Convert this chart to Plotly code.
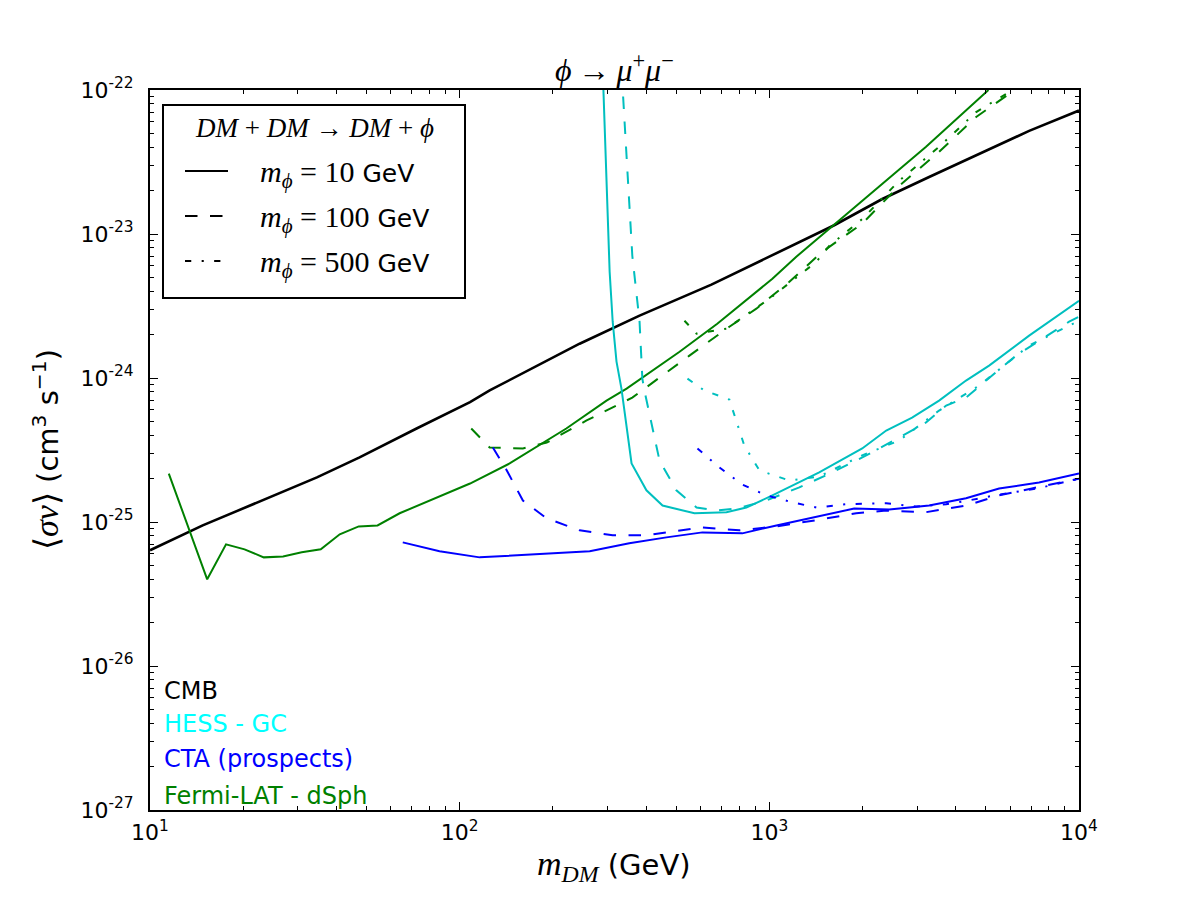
import plotly.graph_objects as go

# ---------------- data ----------------
cmb_x = [10, 14.8, 34.6, 47.5, 72.6, 108, 125, 244, 381, 650, 1620, 2316, 3281, 4756, 6902, 10000]
cmb_y = [6.36e-26, 9.47e-26, 2.04e-25, 2.81e-25, 4.46e-25, 6.8e-25, 8.2e-25, 1.73e-24, 2.71e-24,
         4.45e-24, 1.15e-23, 1.75e-23, 2.49e-23, 3.6e-23, 5.2e-23, 7.2e-23]

fermi10_x = [11.5, 15.3, 17.6, 20.2, 23.3, 26.9, 30.9, 35.6, 41.0, 47.2, 54.3, 64.0, 108, 145, 221,
             298, 346, 513, 679, 830, 1023, 1222, 1563, 2438, 3207, 5100]
fermi10_y = [2.17e-25, 4.0e-26, 7.0e-26, 6.46e-26, 5.68e-26, 5.77e-26, 6.16e-26, 6.46e-26, 8.21e-26,
             9.32e-26, 9.47e-26, 1.15e-25, 1.85e-25, 2.55e-25, 4.46e-25, 6.97e-25, 8.44e-25, 1.52e-24,
             2.38e-24, 3.39e-24, 4.89e-24, 6.95e-24, 1.09e-23, 2.42e-23, 4.03e-23, 1.0e-22]

fermi100_x = [109, 125, 160, 191, 257, 361, 552, 743, 908, 1161, 1483, 1995, 2625, 3533, 4655, 5821, 6100]
fermi100_y = [4.46e-25, 3.29e-25, 3.24e-25, 3.56e-25, 5.07e-25, 7.31e-25, 1.43e-24, 2.27e-24,
              3.03e-24, 4.66e-24, 7.53e-24, 1.18e-23, 2.16e-23, 3.72e-23, 6.5e-23, 9.1e-23, 1.0e-22]

fermi500_x = [532, 582, 727, 1000, 1418, 1563, 1995, 2625, 3533, 4655, 6100]
fermi500_y = [2.5e-24, 2.03e-24, 2.2e-24, 3.55e-24, 6.41e-24, 8.28e-24, 1.27e-23, 2.34e-23, 4.03e-23,
              7.03e-23, 1.0e-22]

hess10_x = [288, 298, 305, 312, 321, 333, 359, 401, 452, 573, 727, 843, 1023, 1449, 1995, 2385, 2891,
            3533, 4317, 5125, 6902, 10000]
hess10_y = [2e-22, 2.06e-23, 5.47e-24, 2.46e-24, 1.30e-24, 8.44e-25, 2.55e-25, 1.66e-25, 1.30e-25,
            1.15e-25, 1.17e-25, 1.26e-25, 1.53e-25, 2.21e-25, 3.24e-25, 4.32e-25, 5.31e-25, 6.97e-25,
            9.6e-25, 1.22e-24, 1.97e-24, 3.44e-24]

hess100_x = [330, 346, 361, 381, 389, 395, 442, 501, 582, 675, 783, 978, 1250, 1597, 2055, 2625, 3207,
             3724, 4317, 5012, 6266, 9290, 10000]
hess100_y = [2e-22, 3.48e-23, 7.06e-24, 2.46e-24, 9.9e-25, 8.18e-25, 2.67e-25, 1.66e-25, 1.26e-25,
             1.2e-25, 1.24e-25, 1.41e-25, 1.74e-25, 2.21e-25, 2.9e-25, 3.86e-25, 4.91e-25, 6.44e-25,
             7.31e-25, 9.6e-25, 1.43e-24, 2.46e-24, 2.67e-24]

hess500_x = [544, 617, 743, 830, 929, 1161, 1449, 1995, 2625, 3533, 4756, 6902, 10000]
hess500_y = [9.9e-25, 8.18e-25, 7.08e-25, 3.4e-25, 2.28e-25, 1.94e-25, 2.07e-25, 2.9e-25, 3.68e-25,
             5.94e-25, 8.85e-25, 1.68e-24, 2.5e-24]

cta10_x = [65.5, 86.1, 116, 263, 353, 465, 608, 818, 1054, 1346, 1879, 2438, 3281, 4317, 5520, 7430, 10000]
cta10_y = [7.22e-26, 6.26e-26, 5.68e-26, 6.26e-26, 7.11e-26, 7.82e-26, 8.47e-26, 8.34e-26, 9.47e-26,
           1.06e-25, 1.24e-25, 1.22e-25, 1.30e-25, 1.46e-25, 1.71e-25, 1.88e-25, 2.17e-25]

cta100_x = [128, 142, 160, 191, 244, 312, 401, 608, 800, 1054, 1418, 1908, 2385, 3207, 4317, 5520, 7047, 10000]
cta100_y = [3.29e-25, 2.28e-25, 1.41e-25, 1.06e-25, 8.75e-26, 8.08e-26, 8.08e-26, 9.18e-26, 8.75e-26,
            9.32e-26, 1.03e-25, 1.15e-25, 1.2e-25, 1.17e-25, 1.30e-25, 1.53e-25, 1.71e-25, 2.0e-25]

cta500_x = [586, 690, 818, 978, 1187, 1418, 1772, 2385, 2978, 3724, 4390, 5520, 7430, 10000]
cta500_y = [3.24e-25, 2.39e-25, 1.82e-25, 1.53e-25, 1.37e-25, 1.26e-25, 1.33e-25, 1.35e-25, 1.28e-25,
            1.33e-25, 1.41e-25, 1.55e-25, 1.72e-25, 2.0e-25]

x_ticks = [10, 100, 1000, 10000]
x_ticktext = ["10<sup>1</sup>", "10<sup>2</sup>", "10<sup>3</sup>", "10<sup>4</sup>"]
y_ticks = [1e-27, 1e-26, 1e-25, 1e-24, 1e-23, 1e-22]
y_ticktext = ["10<sup>-27</sup>", "10<sup>-26</sup>", "10<sup>-25</sup>", "10<sup>-24</sup>",
              "10<sup>-23</sup>", "10<sup>-22</sup>"]

labels = ["CMB", "HESS - GC", "CTA (prospects)", "Fermi-LAT - dSph"]
label_colors = ["#000000", "#00FFFF", "#0000FF", "#008000"]
mphi_labels = ["10", "100", "500"]

# ---------------- styles ----------------
BLACK, CYAN, BLUE, GREEN = "#000000", "#00BFBF", "#0000FF", "#008000"
DASH = "12.5px,12.5px"
DASHDOT = "6.25px,10.4px,2.1px,10.4px"
SANS = "DejaVu Sans"
SERIF = "Liberation Serif"

W, H = 1200, 900
L, R, T, B = 150, 121, 90, 90
PW, PH = W - L - R, H - T - B


def px(xp):
    return (xp - L) / PW


def py(yp):
    return (H - B - yp) / PH


fig = go.Figure()

series = [
    (cmb_x, cmb_y, BLACK, "solid", 2.6),
    (fermi10_x, fermi10_y, GREEN, "solid", 2),
    (fermi100_x, fermi100_y, GREEN, DASH, 2),
    (fermi500_x, fermi500_y, GREEN, DASHDOT, 2),
    (hess10_x, hess10_y, CYAN, "solid", 2),
    (hess100_x, hess100_y, CYAN, DASH, 2),
    (hess500_x, hess500_y, CYAN, DASHDOT, 2),
    (cta10_x, cta10_y, BLUE, "solid", 2),
    (cta100_x, cta100_y, BLUE, DASH, 2),
    (cta500_x, cta500_y, BLUE, DASHDOT, 2),
]
for xs, ys, c, d, w in series:
    fig.add_trace(go.Scatter(x=xs, y=ys, mode="lines",
                             line=dict(color=c, dash=d, width=w),
                             showlegend=False, hoverinfo="skip"))

minor_x = [m * 10 ** k for k in range(1, 4) for m in range(2, 10)]
minor_y = [m * 10.0 ** k for k in range(-27, -22) for m in range(2, 10)]

axis_common = dict(
    showline=True, linecolor="black", linewidth=2, mirror="ticks",
    ticks="inside", ticklen=8, tickwidth=1, tickcolor="black",
    showgrid=False, zeroline=False,
    tickfont=dict(family=SANS, size=22, color="black"),
)
fig.update_xaxes(type="log", range=[1, 4], tickmode="array", tickvals=x_ticks, ticktext=x_ticktext,
                 minor=dict(tickmode="array", tickvals=minor_x, ticks="inside", ticklen=4,
                            tickwidth=1, tickcolor="black", showgrid=False),
                 ticklabelstandoff=2, **axis_common)
fig.update_yaxes(type="log", range=[-27, -22], tickmode="array", tickvals=y_ticks, ticktext=y_ticktext,
                 minor=dict(tickmode="array", tickvals=minor_y, ticks="inside", ticklen=4,
                            tickwidth=1, tickcolor="black", showgrid=False),
                 ticklabelstandoff=10, **axis_common)

ann = []
# title
ann.append(dict(x=px(614), y=py(68), xref="paper", yref="paper", showarrow=False,
                text="<i>ϕ</i>\u2009→\u2009<i>μ</i><sup>+</sup><i>μ</i><sup>−</sup>",
                font=dict(family=SERIF, size=32, color="black"), xanchor="center", yanchor="middle"))
# axis titles
ann.append(dict(x=px(614), y=py(866), xref="paper", yref="paper", showarrow=False,
                text=f"<span style='font-family:{SERIF};font-size:34px'><i>m</i><sub><i>DM</i></sub></span> (GeV)",
                font=dict(family=SANS, size=29, color="black"), xanchor="center", yanchor="middle"))
ann.append(dict(x=px(46), y=py(450), xref="paper", yref="paper", showarrow=False, textangle=-90,
                text=f"<span style='font-family:{SERIF};font-size:34px'>⟨<i>σv</i>⟩</span> (cm<sup>3</sup> s<sup>−1</sup>)",
                font=dict(family=SANS, size=29, color="black"), xanchor="center", yanchor="middle"))

# legend box (drawn manually)
shapes = [dict(type="rect", xref="paper", yref="paper", x0=px(163), x1=px(465), y0=py(298), y1=py(105),
               line=dict(color="black", width=2), fillcolor="white", layer="above")]
ann.append(dict(x=px(314), y=py(128), xref="paper", yref="paper", showarrow=False,
                text="<i>DM</i> + <i>DM</i> → <i>DM</i> + <i>ϕ</i>",
                font=dict(family=SERIF, size=27, color="black"), xanchor="center", yanchor="middle"))
row_y = [171, 216, 261]
for yy, lab, d in zip(row_y, mphi_labels, ["solid", DASH, DASHDOT]):
    shapes.append(dict(type="line", xref="paper", yref="paper", x0=px(185), x1=px(228), y0=py(yy), y1=py(yy),
                       line=dict(color="black", width=2, dash=d), layer="above"))
    ann.append(dict(x=px(258), y=py(yy + 3), xref="paper", yref="paper", showarrow=False,
                    text=f"<span style='font-family:{SERIF};font-size:30px'><i>m</i><sub><i>ϕ</i></sub> = {lab}</span> GeV",
                    font=dict(family=SANS, size=25, color="black"), xanchor="left", yanchor="middle"))

# bottom-left labels
for yy, lab, c in zip([689, 722, 757, 794], labels, label_colors):
    ann.append(dict(x=px(162), y=py(yy + 2), xref="paper", yref="paper", showarrow=False, text=lab,
                    font=dict(family=SANS, size=24, color=c), xanchor="left", yanchor="middle"))

fig.update_layout(
    width=W, height=H, margin=dict(l=L, r=R, t=T, b=B, autoexpand=False),
    paper_bgcolor="white", plot_bgcolor="white",
    annotations=ann, shapes=shapes, showlegend=False,
)

fig.write_html("out.html", config={"displayModeBar": False})
